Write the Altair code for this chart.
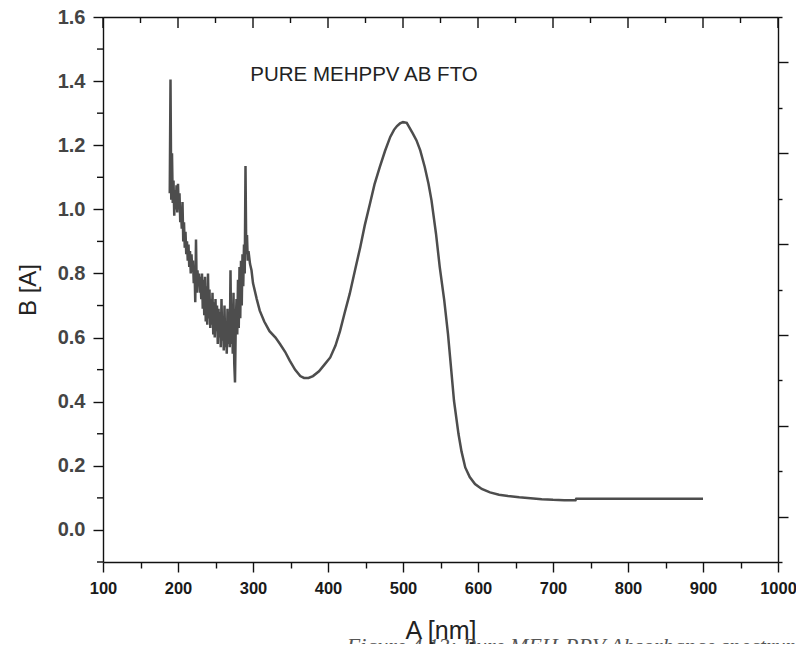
import altair as alt
import pandas as pd

# ---- data ----
noisy_wavelength = list(range(189, 299))
noisy_absorbance = [
    1.05, 1.405, 1.03, 1.175, 1.02, 1.09, 0.98, 1.06, 1.00, 1.075,
    0.99, 1.08, 1.00, 1.05, 0.96, 1.00, 0.94, 1.023, 0.90, 0.96,
    0.88, 0.93, 0.86, 0.90, 0.84, 0.89, 0.82, 0.87, 0.80, 0.86,
    0.81, 0.84, 0.77, 0.82, 0.71, 0.906, 0.74, 0.81, 0.76, 0.80,
    0.74, 0.79, 0.72, 0.80, 0.69, 0.78, 0.67, 0.79, 0.65, 0.76,
    0.64, 0.80, 0.66, 0.75, 0.63, 0.72, 0.64, 0.74, 0.61, 0.71,
    0.60, 0.72, 0.62, 0.70, 0.58, 0.69, 0.60, 0.68, 0.57, 0.72,
    0.59, 0.66, 0.56, 0.70, 0.57, 0.64, 0.55, 0.69, 0.58, 0.63,
    0.57, 0.81, 0.58, 0.70, 0.55, 0.74, 0.52, 0.46, 0.64, 0.72,
    0.61, 0.78, 0.63, 0.82, 0.66, 0.84, 0.70, 0.86, 0.76, 0.89,
    0.80, 1.135, 0.86, 0.92, 0.84, 0.87, 0.85, 0.83, 0.82, 0.81,
]
smooth_wavelength = [
    300, 305, 309, 315, 322, 330, 336, 343, 349, 356, 363, 368, 374, 380,
    388, 395, 403, 410, 416, 422, 429, 436, 443, 449, 456, 462, 469, 476,
    483, 488, 492, 496, 500, 505, 513, 518, 523, 529, 534, 538, 544, 549,
    555, 560, 564, 568, 574, 578, 583, 589, 596, 605, 616, 628, 640, 655,
    670, 685, 700, 715, 730, 731, 800, 900,
]
smooth_absorbance = [
    0.77, 0.72, 0.684, 0.65, 0.62, 0.60, 0.58, 0.555, 0.528, 0.50, 0.48, 0.474, 0.474, 0.48,
    0.495, 0.515, 0.538, 0.575, 0.62, 0.675, 0.737, 0.81, 0.882, 0.95, 1.018, 1.078, 1.132, 1.182,
    1.226, 1.248, 1.26, 1.268, 1.272, 1.27, 1.237, 1.215, 1.184, 1.132, 1.08, 1.028, 0.924, 0.82,
    0.716, 0.611, 0.507, 0.403, 0.299, 0.245, 0.195, 0.165, 0.143, 0.128, 0.117, 0.110, 0.106, 0.102,
    0.099, 0.096, 0.094, 0.093, 0.093, 0.097, 0.097, 0.097,
]

wavelength = noisy_wavelength + smooth_wavelength
absorbance = noisy_absorbance + smooth_absorbance

x_ticks = list(range(100, 1001, 50))
x_major_ticks = list(range(100, 1001, 100))
x_minor_ticks = list(range(150, 1000, 100))
y_major_ticks = [0.0, 0.2, 0.4, 0.6, 0.8, 1.0, 1.2, 1.4, 1.6]
y_minor_ticks = [-0.1, 0.1, 0.3, 0.5, 0.7, 0.9, 1.1, 1.3, 1.5]
right_ticks = list(range(0, 13))

annotation = ["PURE MEHPPV AB FTO"]
caption = ["Figure 4.13: Pure MEH-PPV Absorbance spectrum"]

df = pd.DataFrame({"A": wavelength, "B": absorbance})

LINE_COLOR = "#4d4d4d"
AX_COLOR = "#111111"

x_scale = alt.Scale(domain=[100, 1000], nice=False, zero=False)
y_scale = alt.Scale(domain=[-0.1, 1.6], nice=False, zero=False)

x_axis = alt.Axis(
    values=x_ticks,
    labelExpr="datum.value % 100 == 0 ? format(datum.value, 'd') : ''",
    tickSize=alt.ExprRef("datum.value % 100 == 0 ? 10 : 6"),
    labelFont="Liberation Sans", labelFontSize=16.5, labelFontWeight="bold",
    labelColor="#1a1a1a", labelPadding=8, labelFlush=False, labelOverlap=False,
    title="A [nm]", titleFont="Liberation Sans", titleFontSize=25,
    titleFontWeight="normal", titleColor="#222222", titlePadding=22,
)
y_axis = alt.Axis(
    values=y_major_ticks,
    format=".1f",
    tickSize=10,
    labelFont="Liberation Sans", labelFontSize=20, labelFontWeight="bold",
    labelColor="#444444", labelPadding=8, labelFlush=False, labelOverlap=False,
    title="B [A]", titleFont="Liberation Sans", titleFontSize=24,
    titleFontWeight="normal", titleColor="#222222", titlePadding=17,
)

line = alt.Chart(df).mark_line(color=LINE_COLOR, strokeWidth=2.5).encode(
    x=alt.X("A:Q", scale=x_scale, axis=x_axis),
    y=alt.Y("B:Q", scale=y_scale, axis=y_axis),
)

ann_df = pd.DataFrame({"A": [448], "B": [1.40], "t": annotation})
ann = alt.Chart(ann_df).mark_text(
    font="Liberation Sans", fontSize=20.5, color="#222222", align="center", baseline="alphabetic"
).encode(
    x=alt.X("A:Q", scale=x_scale, axis=x_axis),
    y=alt.Y("B:Q", scale=y_scale, axis=y_axis),
    text="t:N",
)

cap_df = pd.DataFrame({"A": [425], "B": [-0.385], "t": caption})
cap = alt.Chart(cap_df).mark_text(
    font="Liberation Serif", fontSize=22, fontStyle="italic", color="#555555",
    align="left", baseline="alphabetic"
).encode(
    x=alt.X("A:Q", scale=x_scale, axis=x_axis),
    y=alt.Y("B:Q", scale=y_scale, axis=y_axis),
    text="t:N",
)

# inward ticks along the top edge, positioned by the x scale
top_major = alt.Chart(pd.DataFrame({"A": x_major_ticks})).mark_rule(
    color=AX_COLOR, strokeWidth=1.4
).encode(
    x=alt.X("A:Q", scale=x_scale, axis=x_axis),
    y=alt.value(0),
    y2=alt.value(11),
)
top_minor = alt.Chart(pd.DataFrame({"A": x_minor_ticks})).mark_rule(
    color=AX_COLOR, strokeWidth=1.4
).encode(
    x=alt.X("A:Q", scale=x_scale, axis=x_axis),
    y=alt.value(0),
    y2=alt.value(6),
)
# minor ticks on the left axis, positioned by the y scale
left_minor = alt.Chart(pd.DataFrame({"B": y_minor_ticks})).mark_rule(
    color=AX_COLOR, strokeWidth=1.4
).encode(
    y=alt.Y("B:Q", scale=y_scale, axis=y_axis),
    x=alt.value(-6),
    x2=alt.value(0),
)

inner = alt.layer(line, ann, cap, top_major, top_minor, left_minor)

frame = alt.Chart(df).mark_line(opacity=0).encode(
    x=alt.X(
        "A:Q",
        scale=alt.Scale(domain=[100, 1000], nice=False, zero=False),
        axis=alt.Axis(orient="top", ticks=False, labels=False, title=None),
    ),
    y=alt.Y(
        "B:Q",
        scale=alt.Scale(domain=[0, 12], nice=False, zero=False),
        axis=alt.Axis(
            orient="right", values=right_ticks, labels=False, title=None,
            tickSize=alt.ExprRef("datum.value % 2 == 1 ? 10 : 4"),
        ),
    ),
)

chart = (
    alt.layer(inner, frame)
    .resolve_scale(x="independent", y="independent")
    .properties(
        width=675, height=545,
        autosize=alt.AutoSizeParams(type="none"),
        padding={"left": 95, "top": 9, "right": 18, "bottom": 82},
        background="white",
    )
    .configure_axis(
        domainColor=AX_COLOR, domainWidth=1.4, tickColor=AX_COLOR, tickWidth=1.4, grid=False
    )
    .configure_view(stroke=None)
)

chart.save("out.html", embed_options={"renderer": "svg", "actions": False})
